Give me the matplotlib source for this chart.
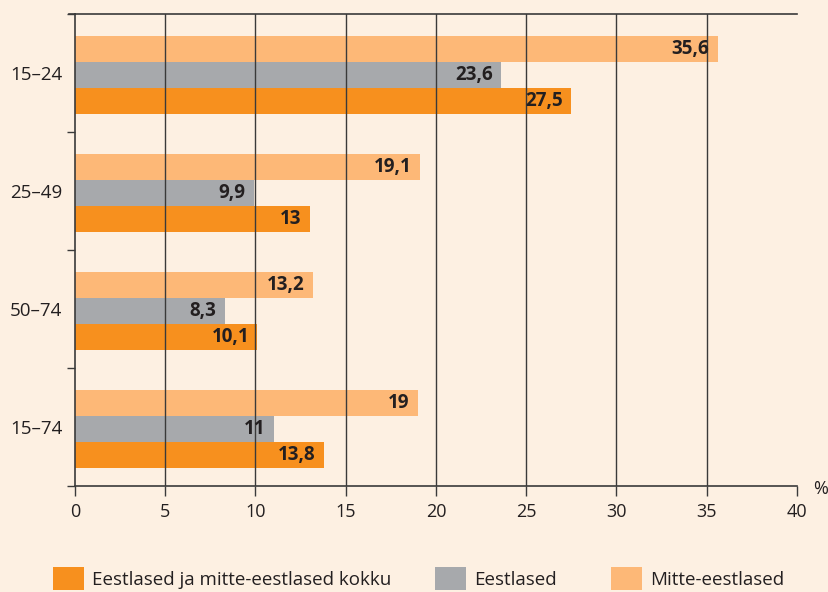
import matplotlib
matplotlib.use("Agg")
import matplotlib.pyplot as plt
from matplotlib.patches import Patch
import numpy as np

plt.rcParams['font.family'] = ['Open Sans', 'DejaVu Sans']

categories = ["15–24", "25–49", "50–74", "15–74"]
series_names = ["Eestlased ja mitte-eestlased kokku", "Eestlased", "Mitte-eestlased"]
total = [27.5, 13, 10.1, 13.8]
estonians = [23.6, 9.9, 8.3, 11]
non_estonians = [35.6, 19.1, 13.2, 19]
value_labels_total = ["27,5", "13", "10,1", "13,8"]
value_labels_est = ["23,6", "9,9", "8,3", "11"]
value_labels_non = ["35,6", "19,1", "13,2", "19"]
xticks = [0, 5, 10, 15, 20, 25, 30, 35, 40]

bg = "#FDF0E2"
c_total = "#F7901E"
c_est = "#A7A9AC"
c_non = "#FDB877"
line_c = "#3a3a3a"
txt_c = "#231f20"

fig = plt.figure(figsize=(8.29, 5.92), dpi=100, facecolor=bg)
ax = fig.add_axes([75/829, 1-486/592, (797-75)/829, (486-14)/592])
ax.set_facecolor(bg)

y = np.arange(len(categories)) + 0.015
h = 0.22
series = [(non_estonians, c_non, -h, value_labels_non),
          (estonians, c_est, 0, value_labels_est),
          (total, c_total, h, value_labels_total)]
for vals, col, off, labs in series:
    bars = ax.barh(y + off, vals, height=h, color=col, zorder=1)
    for b, lab in zip(bars, labs):
        ax.annotate(lab, (b.get_width(), b.get_y() + b.get_height()/2),
                    xytext=(-6, 0), textcoords="offset points",
                    ha="right", va="center", fontsize=13.5, fontweight="bold",
                    color=txt_c, zorder=3)

ax.set_xlim(0, 40)
ax.set_ylim(3.5, -0.5)
ax.set_xticks(xticks)
ax.set_xticklabels([str(t) for t in xticks], fontsize=13, color=txt_c)
for t in xticks[1:-1]:
    ax.axvline(t, color=line_c, lw=1.0, zorder=2)

ax.set_yticks(np.arange(len(categories)))
ax.set_yticklabels(categories, fontsize=13.5, color=txt_c)
ax.set_yticks(np.arange(-0.5, 4, 1), minor=True)
ax.tick_params(axis='y', which='major', length=0, pad=9)
ax.tick_params(axis='y', which='minor', length=6, width=1.0, color=line_c, direction='out')
ax.tick_params(axis='x', length=7, width=1.0, color=line_c, direction='out', pad=5)

for s in ['top', 'left', 'bottom']:
    ax.spines[s].set_color(line_c)
    ax.spines[s].set_linewidth(1.2)
ax.spines['right'].set_visible(False)

ax.plot([-6/722*40, 0], [-0.5, -0.5], color=line_c, lw=1.2, clip_on=False)

fig.text(821/829, 1-489/592, "%", fontsize=13, color=txt_c, ha="center", va="center")

handles = [Patch(facecolor=c_total), Patch(facecolor=c_est), Patch(facecolor=c_non)]
xpos = [53, 435, 611]
for hdl, name, xp in zip(handles, series_names, xpos):
    leg = fig.legend([hdl], [name], loc='upper left', bbox_to_anchor=(xp/829, 1-567/592),
                     frameon=False, fontsize=13.5, handlelength=1.65, handleheight=1.5,
                     handletextpad=0.42, borderpad=0, borderaxespad=0)
    for t in leg.get_texts():
        t.set_color(txt_c)

fig.savefig("out.png", dpi=100, facecolor=bg)
